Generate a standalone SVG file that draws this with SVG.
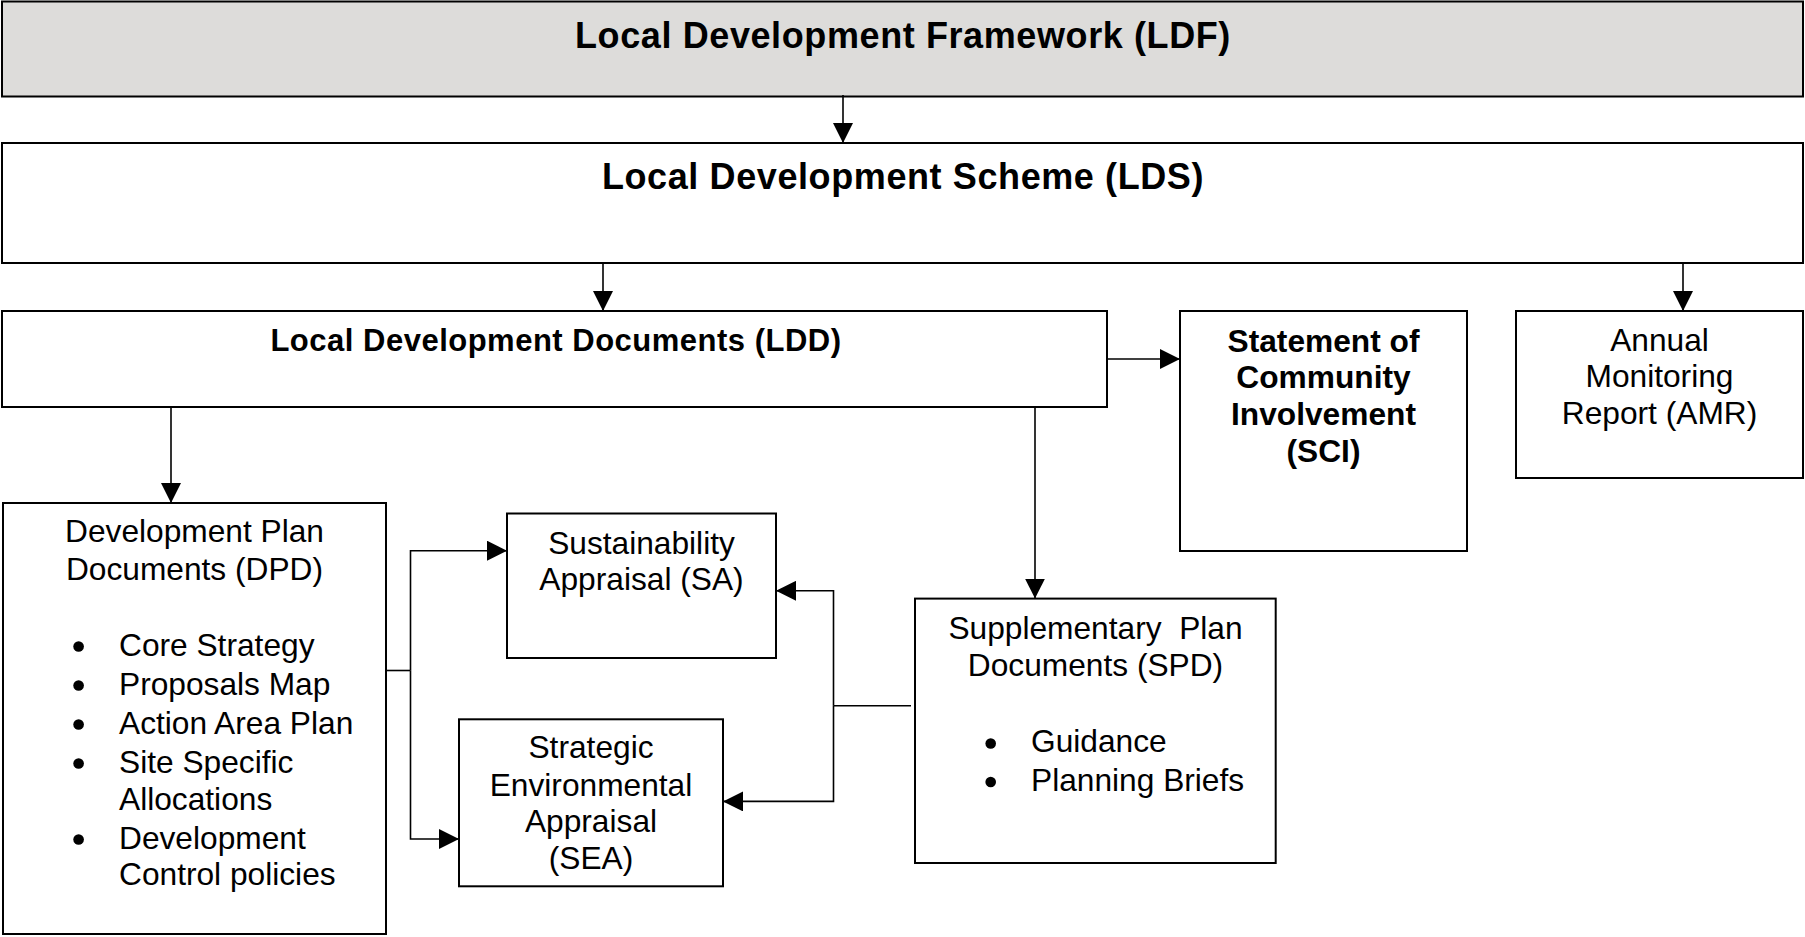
<svg xmlns="http://www.w3.org/2000/svg" width="1805" height="937" viewBox="0 0 1805 937">
<defs>
<marker id="ah" markerUnits="userSpaceOnUse" markerWidth="20" markerHeight="20" refX="20" refY="10" orient="auto">
<path d="M0,0 L20,10 L0,20 z" fill="#000"/>
</marker>
<style>
.box{fill:#fff;stroke:#000;stroke-width:2}
.grey{fill:#dddcda}
.t{font-family:"Liberation Sans",Arial,sans-serif;font-size:31.7px;fill:#000}
.b{font-weight:bold}
.c{text-anchor:middle}
.h{font-size:36px;letter-spacing:0.6px}
.bul{fill:#000}
.conn{fill:none;stroke:#000;stroke-width:1.6}
</style>
</defs>
<rect width="1805" height="937" fill="#fff"/>

<g id="ldf">
<rect class="box grey" x="2" y="1.5" width="1801" height="95"/>
<text class="t b c h" x="903" y="47.5">Local Development Framework (LDF)</text>
</g>

<g id="lds">
<rect class="box" x="2" y="143" width="1801" height="120"/>
<text class="t b c h" x="903" y="188.5">Local Development Scheme (LDS)</text>
</g>

<g id="ldd">
<rect class="box" x="2" y="311" width="1105" height="96"/>
<text class="t b c" x="556" y="350.7" style="font-size:31px;letter-spacing:0.5px">Local Development Documents (LDD)</text>
</g>

<g id="sci">
<rect class="box" x="1180" y="311" width="287" height="240"/>
<text class="t b c" x="1323.5" y="351.7">Statement of</text>
<text class="t b c" x="1323.5" y="388.3">Community</text>
<text class="t b c" x="1323.5" y="424.9">Involvement</text>
<text class="t b c" x="1323.5" y="461.5">(SCI)</text>
</g>

<g id="amr">
<rect class="box" x="1516" y="311" width="287" height="167"/>
<text class="t c" x="1659.5" y="350.5">Annual</text>
<text class="t c" x="1659.5" y="387">Monitoring</text>
<text class="t c" x="1659.5" y="423.6">Report (AMR)</text>
</g>

<g id="dpd">
<rect class="box" x="3" y="503" width="383" height="431"/>
<text class="t c" x="194.5" y="542">Development Plan</text>
<text class="t c" x="194.5" y="579.8">Documents (DPD)</text>
<circle class="bul" cx="78.6" cy="646.5" r="5.3"/>
<text class="t" x="119" y="656">Core Strategy</text>
<circle class="bul" cx="78.6" cy="685.5" r="5.3"/>
<text class="t" x="119" y="695">Proposals Map</text>
<circle class="bul" cx="78.6" cy="724.5" r="5.3"/>
<text class="t" x="119" y="734">Action Area Plan</text>
<circle class="bul" cx="78.6" cy="763.5" r="5.3"/>
<text class="t" x="119" y="773">Site Specific</text>
<text class="t" x="119" y="810">Allocations</text>
<circle class="bul" cx="78.6" cy="839.5" r="5.3"/>
<text class="t" x="119" y="849">Development</text>
<text class="t" x="119" y="885">Control policies</text>
</g>

<g id="sa">
<rect class="box" x="507" y="513.5" width="269" height="144.5"/>
<text class="t c" x="641.5" y="554">Sustainability</text>
<text class="t c" x="641.5" y="590">Appraisal (SA)</text>
</g>

<g id="sea">
<rect class="box" x="459" y="719.3" width="264" height="167"/>
<text class="t c" x="591" y="758">Strategic</text>
<text class="t c" x="591" y="795.5">Environmental</text>
<text class="t c" x="591" y="832.2">Appraisal</text>
<text class="t c" x="591" y="869.2">(SEA)</text>
</g>

<g id="spd">
<rect class="box" x="915" y="598.6" width="360.7" height="264.4"/>
<text class="t c" x="1095.5" y="638.5" xml:space="preserve">Supplementary  Plan</text>
<text class="t c" x="1095.5" y="675.7">Documents (SPD)</text>
<circle class="bul" cx="990.7" cy="743.5" r="5.3"/>
<text class="t" x="1031" y="752">Guidance</text>
<circle class="bul" cx="990.7" cy="782" r="5.3"/>
<text class="t" x="1031" y="790.5">Planning Briefs</text>
</g>

<g id="connectors">
<line class="conn" x1="843" y1="95" x2="843" y2="143" marker-end="url(#ah)"/>
<line class="conn" x1="603" y1="263" x2="603" y2="311" marker-end="url(#ah)"/>
<line class="conn" x1="1683" y1="263" x2="1683" y2="311" marker-end="url(#ah)"/>
<line class="conn" x1="1107" y1="359" x2="1180" y2="359" marker-end="url(#ah)"/>
<line class="conn" x1="171" y1="407" x2="171" y2="503" marker-end="url(#ah)"/>
<line class="conn" x1="1035" y1="407" x2="1035" y2="598.6" marker-end="url(#ah)"/>
<path class="conn" d="M386,670.5 H410.5"/>
<path class="conn" d="M410.5,670.5 V550.7 H507" marker-end="url(#ah)"/>
<path class="conn" d="M410.5,670.5 V839 H459" marker-end="url(#ah)"/>
<path class="conn" d="M911,705.8 H833.5"/>
<path class="conn" d="M833.5,705.8 V590.8 H776" marker-end="url(#ah)"/>
<path class="conn" d="M833.5,705.8 V801.4 H723" marker-end="url(#ah)"/>
</g>
</svg>
